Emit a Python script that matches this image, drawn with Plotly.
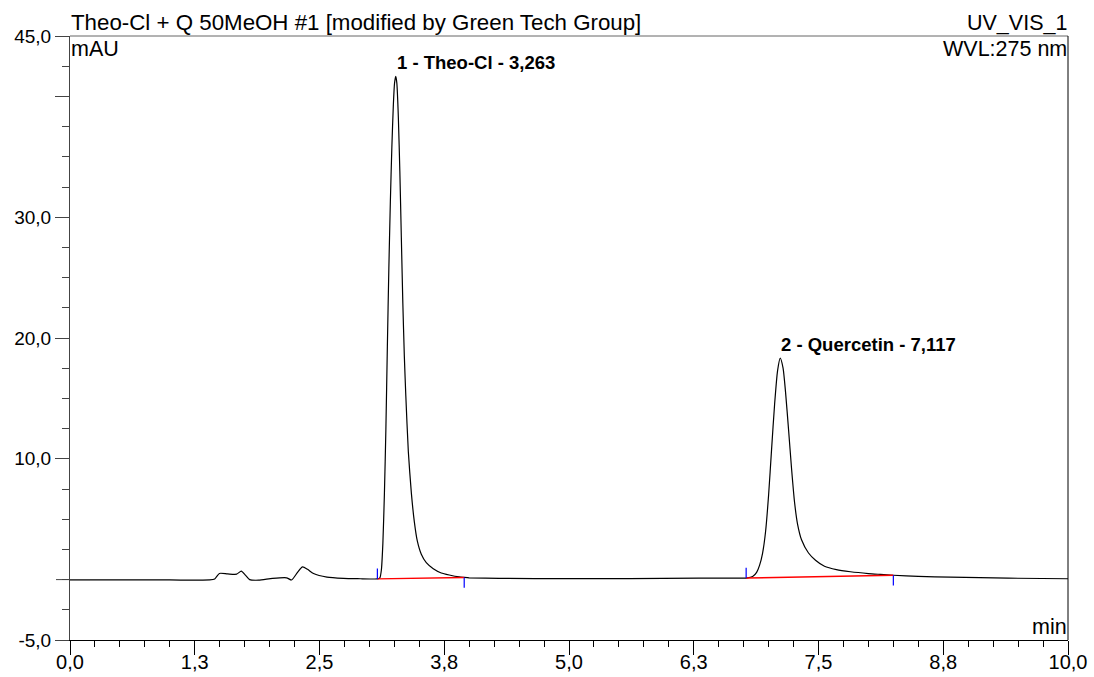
import plotly.graph_objects as go

# ---- data ----
time_min = [0.0, 0.5, 1.0, 1.40, 1.45, 1.497, 1.58, 1.67, 1.716, 1.76, 1.80, 1.89, 2.03, 2.17, 2.22,
            2.28, 2.33, 2.38, 2.44, 2.575, 2.74, 2.91, 3.05,
            3.08, 3.105, 3.12, 3.135, 3.15, 3.165, 3.18, 3.195, 3.21, 3.225, 3.24, 3.252, 3.264,
            3.275, 3.29, 3.305, 3.32, 3.335, 3.35, 3.365, 3.39, 3.42, 3.45, 3.48, 3.52, 3.57,
            3.64, 3.72, 3.80, 3.90, 3.95, 4.0, 4.3, 5.0, 5.6, 6.3, 6.6,
            6.78, 6.84, 6.88, 6.91, 6.94, 6.97, 7.00, 7.03, 7.06, 7.09, 7.117, 7.145, 7.17, 7.20,
            7.23, 7.26, 7.29, 7.33, 7.40, 7.47, 7.56, 7.68, 7.82, 8.0, 8.12, 8.25, 8.5, 8.82,
            9.4, 10.0]
absorb_mau = [-0.03, -0.03, -0.03, -0.03, 0.05, 0.51, 0.47, 0.45, 0.70, 0.35, 0.0, -0.05, 0.10, 0.15, -0.03,
              0.6, 1.05, 0.85, 0.5, 0.2, 0.1, 0.07, 0.05,
              0.06, 0.15, 0.8, 3.0, 7.0, 12.4, 19.3, 25.8, 31.3, 35.8, 39.3, 41.1, 41.66,
              41.1, 38.3, 33.8, 28.3, 22.9, 18.5, 15.2, 10.6, 7.2, 4.8, 3.2, 2.1, 1.4,
              0.9, 0.55, 0.38, 0.22, 0.18, 0.15, 0.1, 0.08, 0.08, 0.12, 0.12,
              0.13, 0.25, 0.6, 1.2, 2.2, 4.0, 7.0, 10.8, 14.5, 17.3, 18.33, 17.5, 15.5, 12.4,
              9.2, 6.4, 4.6, 3.3, 2.2, 1.6, 1.1, 0.82, 0.65, 0.5, 0.43, 0.36, 0.27, 0.2,
              0.12, 0.07]

peak_labels = ["1 - Theo-Cl - 3,263", "2 - Quercetin - 7,117"]
peak_rt = [3.263, 7.117]
peak_height = [41.66, 18.33]

base_start_t = [3.08, 6.775]
base_start_a = [0.06, 0.13]
base_end_t = [3.95, 8.25]
base_end_a = [0.18, 0.36]
marker_len = 0.85

x_tickvals = [0.0, 1.25, 2.5, 3.75, 5.0, 6.25, 7.5, 8.75, 10.0]
x_ticktext = ["0,0", "1,3", "2,5", "3,8", "5,0", "6,3", "7,5", "8,8", "10,0"]
y_tickvals = [45, 40, 30, 20, 10, -5]
y_ticktext = ["45,0", "", "30,0", "20,0", "10,0", "-5,0"]

FONT = "Liberation Sans, Arial, sans-serif"

fig = go.Figure()
fig.add_trace(go.Scatter(x=time_min, y=absorb_mau, mode="lines",
                         line=dict(color="black", width=1.2, shape="spline", smoothing=0.6),
                         hoverinfo="skip", showlegend=False))

for i in range(len(base_start_t)):
    fig.add_trace(go.Scatter(x=[base_start_t[i], base_end_t[i]], y=[base_start_a[i], base_end_a[i]],
                             mode="lines", line=dict(color="red", width=1.4), showlegend=False))
    fig.add_trace(go.Scatter(x=[base_start_t[i], base_start_t[i]],
                             y=[base_start_a[i], base_start_a[i] + marker_len],
                             mode="lines", line=dict(color="blue", width=1.2), showlegend=False))
    fig.add_trace(go.Scatter(x=[base_end_t[i], base_end_t[i]],
                             y=[base_end_a[i], base_end_a[i] - marker_len],
                             mode="lines", line=dict(color="blue", width=1.2), showlegend=False))

for lbl, t, h in zip(peak_labels, peak_rt, peak_height):
    fig.add_annotation(x=t, y=h, text="<b>" + lbl + "</b>", showarrow=False,
                       xanchor="left", yanchor="bottom", xshift=-1, yshift=1,
                       font=dict(family=FONT, size=18.5, color="black"))

W, H = 1094, 677
ml, mr, mt, mb = 69.7, 26, 36.4, 37
pw = W - ml - mr

def ann(text, x, y, xa, ya, size=21.5):
    fig.add_annotation(text=text, xref="paper", yref="paper", x=x, y=y, xanchor=xa, yanchor=ya,
                       showarrow=False, borderpad=0, font=dict(family=FONT, size=size, color="black"))

ann("Theo-Cl + Q 50MeOH #1 [modified by Green Tech Group]", 0, 1, "left", "bottom", 22.3)
ann("UV_VIS_1", 1, 1, "right", "bottom")
ann("mAU", 0, 1, "left", "top")
ann("WVL:275 nm", 1, 1, "right", "top")
ann("min", 1, 0, "right", "bottom")

# frame lines: top (gray) and right (black)
fig.add_shape(type="line", xref="paper", yref="paper", x0=0, x1=1, y0=1, y1=1,
              line=dict(color="#666666", width=1))
fig.add_shape(type="line", xref="paper", yref="paper", x0=1, x1=1, y0=0, y1=1,
              line=dict(color="black", width=1))
# zero tick crossing the y axis
fig.add_shape(type="line", xref="paper", yref="y", x0=-14 / pw, x1=20 / pw, y0=0, y1=0,
              line=dict(color="#444444", width=1))

fig.update_layout(
    width=W, height=H, margin=dict(l=ml, r=mr, t=mt, b=mb, autoexpand=False),
    paper_bgcolor="white", plot_bgcolor="white",
    font=dict(family=FONT, size=19, color="black"),
    xaxis=dict(range=[0, 10], tickmode="array", tickvals=x_tickvals, ticktext=x_ticktext,
               automargin=False, ticklabelstandoff=-10,
               showgrid=False, zeroline=False, showline=True, linecolor="black", linewidth=1,
               ticks="outside", ticklen=14, tickcolor="black", tickwidth=1,
               minor=dict(tickmode="linear", tick0=0, dtick=0.25, ticks="outside", ticklen=6,
                          tickcolor="black", tickwidth=1, showgrid=False),
               tickfont=dict(family=FONT, size=20)),
    yaxis=dict(range=[-5, 45], tickmode="array", tickvals=y_tickvals, ticktext=y_ticktext,
               automargin=False,
               showgrid=False, zeroline=False, showline=True, linecolor="#444444", linewidth=1,
               ticks="outside", ticklen=14, tickcolor="#444444", tickwidth=1,
               minor=dict(tickmode="linear", tick0=0, dtick=2.5, ticks="outside", ticklen=7,
                          tickcolor="#444444", tickwidth=1, showgrid=False),
               tickfont=dict(family=FONT, size=19)),
)

fig.write_html("out.html")
